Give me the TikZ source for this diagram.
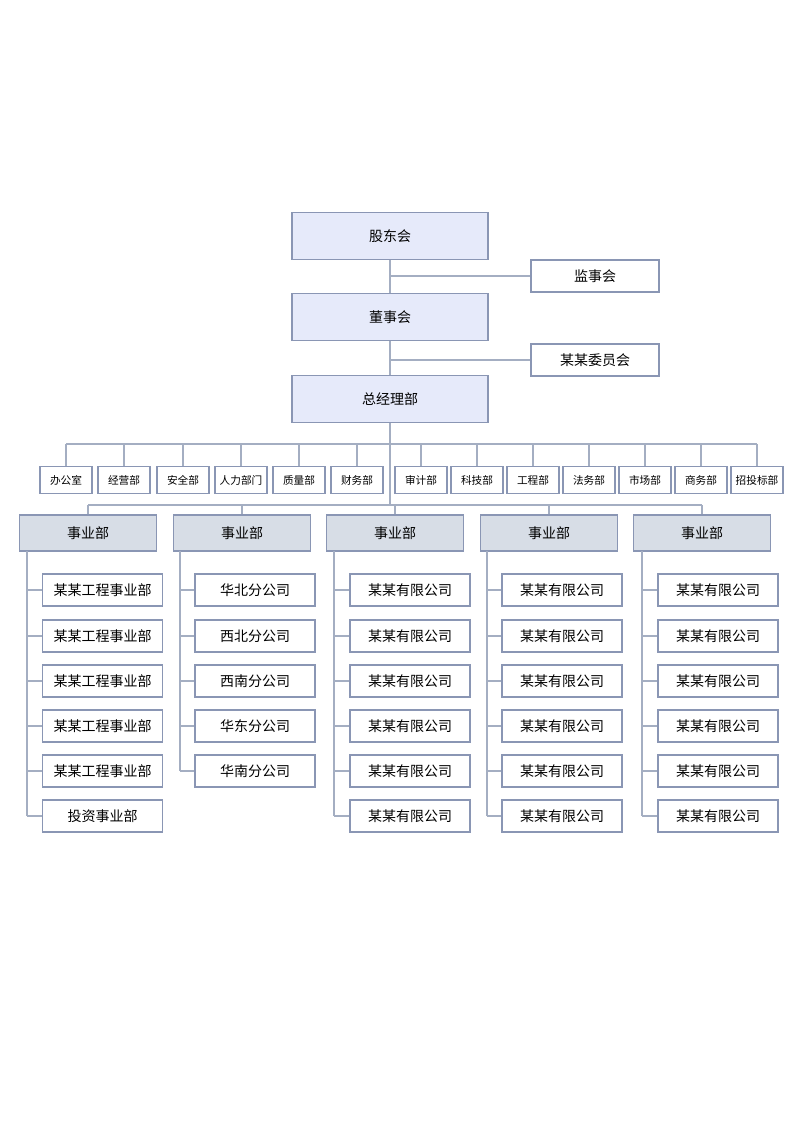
\documentclass[tikz,border=0pt]{standalone}
\usepackage{fontspec}
\setmainfont{Noto Sans CJK SC}
\definecolor{boxline}{HTML}{8A96B4}
\definecolor{topfill}{HTML}{E6EAFA}
\definecolor{unitfill}{HTML}{D7DDE6}
\definecolor{wire}{HTML}{A4AEC2}
\tikzset{
  topbox/.style={draw=boxline,fill=topfill,line width=0.9pt,minimum width=147pt,minimum height=35pt,font=\fontsize{10.5}{12}\selectfont},
  sidebox/.style={draw=boxline,fill=white,line width=0.9pt,minimum width=96pt,minimum height=24pt,font=\fontsize{10.5}{12}\selectfont},
  deptbox/.style={draw=boxline,fill=white,line width=0.9pt,minimum width=39pt,minimum height=20pt,font=\fontsize{8}{10}\selectfont},
  unitbox/.style={draw=boxline,fill=unitfill,line width=0.9pt,minimum width=103pt,minimum height=27pt,font=\fontsize{10.5}{12}\selectfont},
  subbox/.style={draw=boxline,fill=white,line width=0.9pt,minimum width=90pt,minimum height=24pt,font=\fontsize{10.5}{12}\selectfont},
  wire/.style={draw=wire,line width=0.8pt}
}
\begin{document}
\begin{tikzpicture}[x=0.75pt,y=-0.75pt]
    \useasboundingbox (0,0) rectangle (800,1131);

    \coordinate (top) at (390,259);
    \coordinate (deptbus) at (390,444);
    \coordinate (unitbus) at (390,505);
    \draw[wire] (top) -- (unitbus);
    \draw[wire] (66,444) -- (757,444);
    \draw[wire] (88,505) -- (702,505);

    \node[topbox] (gudong) at (390,236) {股东会};
    \node[topbox] (dongshi) at (390,317) {董事会};
    \node[topbox] (zongjingli) at (390,399) {总经理部};

    \node[sidebox] (jianshi) at (595,276) {监事会};
    \node[sidebox] (weiyuan) at (595,360) {某某委员会};
    \draw[wire] (390,276) -- (jianshi.west);
    \draw[wire] (390,360) -- (weiyuan.west);

    \foreach \x/\name/\txt in {66/d1/办公室, 124/d2/经营部, 183/d3/安全部, 241/d4/人力部门, 299/d5/质量部, 357/d6/财务部,
                               421/d7/审计部, 477/d8/科技部, 533/d9/工程部, 589/d10/法务部, 645/d11/市场部, 701/d12/商务部, 757/d13/招投标部}
    {
        \node[deptbox] (\name) at (\x,480) {\txt};
        \draw[wire] (\x,444) -- (\name.north);
    }

    \foreach \x/\name in {88/u1, 242/u2, 395/u3, 549/u4, 702/u5}
    {
        \node[unitbox] (\name) at (\x,533) {事业部};
        \draw[wire] (\x,505) -- (\name.north);
    }

    % 第一列
    \draw[wire] (27,551) -- (27,816);
    \foreach \y/\txt in {590/某某工程事业部, 636/某某工程事业部, 681/某某工程事业部, 726/某某工程事业部, 771/某某工程事业部, 816/投资事业部}
    {
        \node[subbox] (a\y) at (102.5,\y) {\txt};
        \draw[wire] (27,\y) -- (a\y.west);
    }

    % 第二列
    \draw[wire] (180,551) -- (180,771);
    \foreach \y/\txt in {590/华北分公司, 636/西北分公司, 681/西南分公司, 726/华东分公司, 771/华南分公司}
    {
        \node[subbox] (b\y) at (255,\y) {\txt};
        \draw[wire] (180,\y) -- (b\y.west);
    }

    % 其余三列
    \foreach \sx/\cx/\col in {334/410/c, 487/562/d, 642/718/e}
    {
        \draw[wire] (\sx,551) -- (\sx,816);
        \foreach \y in {590,636,681,726,771,816}
        {
            \node[subbox] (\col\y) at (\cx,\y) {某某有限公司};
            \draw[wire] (\sx,\y) -- (\col\y.west);
        }
    }
\end{tikzpicture}
\end{document}
